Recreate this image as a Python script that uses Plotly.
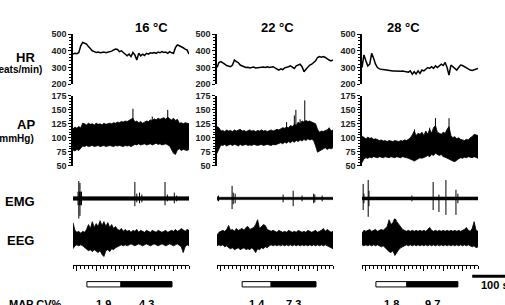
import plotly.graph_objects as go

W, H = 505, 305
T5 = list(range(0, 301, 5))  # sample times (s)

TITLES = ["16 °C", "22 °C", "28 °C"]

HR = [
    [380, 385, 382, 390, 430, 450, 445, 440, 425, 410, 400, 395, 390, 392, 388, 390, 392, 388, 390, 395,
     398, 405, 410, 408, 395, 400, 390, 385, 370, 380, 365, 390, 375, 345, 385, 370, 380, 372, 385, 380,
     388, 385, 390, 385, 392, 388, 395, 390, 392, 385, 395, 388, 385, 420, 435, 430, 425, 418, 410, 405, 380],
    [300, 330, 335, 325, 320, 312, 310, 305, 315, 345, 335, 330, 315, 308, 305, 300, 302, 298, 300, 303,
     298, 300, 302, 300, 303, 300, 305, 300, 303, 305, 298, 290, 285, 292, 288, 298, 300, 305, 310, 300,
     295, 310, 315, 320, 305, 275, 290, 305, 315, 320, 330, 340, 360, 365, 362, 365, 360, 350, 345, 340, 345],
    [300, 375, 340, 310, 320, 385, 355, 320, 300, 292, 290, 288, 285, 282, 280, 282, 280, 280, 278, 280,
     278, 280, 278, 275, 272, 280, 260, 275, 262, 280, 265, 285, 280, 290, 300, 295, 305, 295, 310, 300,
     310, 320, 312, 330, 300, 255, 315, 305, 295, 285, 300, 315, 312, 305, 300, 290, 285, 282, 285, 290, 295],
]

AP_UP = [
    [116, 119, 117, 120, 118, 126, 125, 123, 126, 124, 125, 123, 126, 124, 125, 123, 126, 124, 125, 126,
     125, 127, 126, 128, 127, 129, 128, 130, 129, 131, 132, 135, 128, 130, 127, 129, 126, 128, 130, 129,
     132, 131, 134, 132, 135, 133, 134, 136, 133, 137, 134, 132, 135, 131, 133, 126, 127, 125, 127, 126, 125],
    [120, 118, 112, 113, 111, 114, 112, 113, 111, 114, 112, 113, 115, 112, 113, 111, 113, 114, 112, 113,
     111, 113, 112, 114, 112, 113, 111, 113, 114, 112, 113, 115, 114, 116, 118, 117, 119, 118, 122, 120,
     124, 122, 128, 125, 130, 128, 131, 129, 130, 128, 127, 125, 115, 110, 112, 111, 113, 114, 118, 112, 114],
    [103, 100, 98, 101, 99, 100, 97, 98, 96, 95, 96, 94, 95, 93, 95, 94, 93, 95, 94, 93,
     95, 94, 96, 95, 97, 100, 105, 112, 104, 108, 106, 110, 104, 112, 106, 115, 108, 118, 122, 110,
     108, 106, 110, 108, 115, 120, 104, 100, 102, 98, 100, 97, 96, 95, 97, 96, 100, 102, 106, 105, 104],
]
AP_LO = [
    [78, 76, 79, 77, 80, 85, 84, 86, 84, 85, 86, 84, 85, 86, 84, 85, 86, 84, 85, 86,
     85, 84, 86, 85, 86, 85, 84, 86, 85, 86, 84, 86, 88, 87, 89, 87, 88, 89, 87, 88,
     89, 87, 88, 90, 88, 89, 87, 88, 89, 87, 85, 80, 72, 70, 78, 80, 77, 79, 78, 77, 79],
    [72, 80, 87, 86, 88, 85, 87, 88, 86, 88, 87, 85, 88, 86, 87, 88, 86, 87, 86, 88,
     87, 86, 87, 88, 86, 87, 88, 87, 86, 88, 87, 89, 90, 91, 89, 92, 90, 93, 91, 94,
     92, 95, 93, 96, 94, 97, 95, 98, 96, 97, 95, 85, 74, 76, 78, 80, 82, 79, 81, 80, 82],
    [55, 62, 64, 63, 65, 64, 66, 65, 64, 66, 65, 64, 66, 65, 64, 66, 65, 64, 66, 65,
     64, 66, 65, 64, 63, 62, 60, 58, 60, 62, 64, 63, 65, 66, 68, 66, 70, 68, 72, 70,
     68, 70, 66, 65, 63, 62, 60, 58, 57, 59, 62, 64, 63, 65, 64, 66, 65, 64, 66, 65, 63],
]
# (time s, peak mmHg)
AP_SPIKES = [
    [(155, 152), (245, 150), (205, 138)],
    [(180, 128), (200, 140), (204, 150), (215, 133), (227, 167)],
    [(136, 115), (175, 118), (190, 135), (225, 135)],
]

EMG_NOISE = [1.8, 1.2, 1.5]
# (time s, top, bottom) in trace units
EMG_SPIKES = [
    [(13, 7, -7), (15, 18, -21), (17, 7, -7), (18, 16, -18), (20, 7, -7), (22, 7, -7),
     (160, 17, -8), (165, 5, -4), (172, 6, -5), (178, 4, -4), (238, 17, -7), (244, 4, -3),
     (262, 6, -5), (268, 3, -3)],
    [(0, 2.5, -2.5), (4, 3, -3), (39, 13, -11), (42, 6, -6), (47, 5, -5), (171, 4, -4),
     (197, 8, -8), (220, 3, -3), (250, 5, -5), (253, 4, -4), (272, 3, -3)],
    [(3, 15, -12), (5, 5, -5), (16, 19, -19), (18, 8, -8), (129, 3, -3), (184, 17, -12),
     (199, 4, -14), (217, 19, -17), (243, 9, -17), (248, 5, -5)],
]

EEG_UP = [
    [16, 8, 6, 7, 5, 7, 6, 9, 14, 10, 17, 11, 15, 12, 18, 13, 17, 12, 16, 11,
     14, 10, 12, 9, 8, 10, 7, 9, 7, 8, 6, 8, 7, 9, 6, 8, 7, 6, 8, 7,
     6, 8, 7, 6, 8, 7, 6, 7, 8, 6, 7, 8, 7, 9, 7, 8, 10, 8, 7, 9, 8],
    [3, 6, 7, 8, 7, 9, 13, 8, 9, 7, 10, 8, 9, 10, 8, 11, 12, 9, 10, 11,
     14, 19, 10, 12, 14, 13, 9, 8, 7, 8, 7, 6, 8, 7, 6, 7, 6, 8, 7, 6,
     7, 6, 8, 7, 6, 7, 6, 8, 7, 6, 7, 8, 6, 7, 8, 10, 7, 9, 7, 6, 7],
    [5, 8, 7, 8, 9, 7, 8, 9, 7, 8, 9, 8, 10, 12, 19, 14, 16, 21, 17, 14,
     12, 9, 8, 7, 8, 7, 8, 7, 8, 7, 8, 7, 8, 7, 9, 11, 8, 7, 8, 7,
     8, 7, 8, 7, 8, 7, 8, 7, 8, 7, 8, 7, 8, 9, 11, 8, 7, 10, 17, 8, 7],
]
EEG_LO = [
    [-11, -8, -7, -8, -7, -8, -9, -11, -13, -12, -14, -12, -13, -15, -13, -17, -19, -13, -12, -14,
     -11, -12, -10, -9, -8, -7, -8, -7, -8, -7, -6, -7, -8, -7, -6, -7, -8, -7, -6, -7,
     -8, -7, -6, -7, -8, -7, -6, -7, -8, -7, -6, -7, -8, -7, -6, -7, -9, -15, -9, -7, -8],
    [-8, -7, -8, -7, -9, -8, -10, -11, -10, -12, -11, -10, -12, -11, -10, -12, -11, -12, -10, -12,
     -15, -11, -12, -10, -11, -9, -10, -8, -7, -8, -7, -8, -7, -8, -7, -8, -7, -8, -7, -8,
     -7, -8, -7, -8, -7, -8, -7, -8, -7, -8, -7, -8, -7, -8, -7, -8, -7, -8, -9, -10, -11],
    [-7, -8, -7, -8, -7, -8, -7, -8, -7, -8, -9, -8, -10, -12, -14, -15, -13, -18, -15, -12,
     -10, -9, -8, -7, -8, -7, -8, -7, -8, -7, -8, -7, -8, -7, -8, -7, -8, -7, -8, -7,
     -8, -7, -8, -7, -8, -7, -8, -7, -8, -7, -8, -7, -8, -7, -8, -7, -8, -9, -8, -10, -9],
]

# light period start, light->dark boundary, dark end (s)
PERIODS = [(36, 124, 256), (65, 140, 256), (36, 116, 248)]
CV_LIGHT = ["1.9", "1.4", "1.8"]
CV_DARK = ["4.3", "7.3", "9.7"]
HR_TICKS = [200, 300, 400, 500]
AP_TICKS = [50, 75, 100, 125, 150, 175]
SCALE_S = 100

# ---------------- layout helpers ----------------
FONT = "Liberation Sans, Arial, sans-serif"
PANEL_PX = [(73, 189), (217, 333), (362, 478)]
T_RANGE = [0, 300]


def px(v):
    return v / W


def py(v):
    return 1 - v / H


ROWS = {  # pixel top, bottom
    "hr": (30, 82),
    "ap": (94, 166),
    "emg": (179, 221),
    "eeg": (221, 261),
}

fig = go.Figure()
layout = dict(
    width=W, height=H, margin=dict(l=0, r=0, t=0, b=0), autosize=False,
    paper_bgcolor="white", plot_bgcolor="white", showlegend=False,
    font=dict(family=FONT, color="black"),
)
shapes = []
annotations = []

for i in range(3):
    xid = "x" if i == 0 else f"x{i + 1}"
    xkey = "xaxis" if i == 0 else f"xaxis{i + 1}"
    x0p, x1p = PANEL_PX[i]
    layout[xkey] = dict(
        domain=[px(x0p), px(x1p)], range=T_RANGE, anchor="free", position=py(269),
        showline=True, linecolor="black", linewidth=1.2, ticks="outside", ticklen=5,
        tickwidth=1, tickcolor="black", tick0=10, dtick=50, showticklabels=False,
        showgrid=False, zeroline=False,
        minor=dict(ticks="outside", ticklen=2.5, dtick=10, tick0=0, tickcolor="black", tickwidth=1),
    )
    ynums = [i * 4 + r + 1 for r in range(4)]
    yids = ["y" if n == 1 else f"y{n}" for n in ynums]
    ykeys = ["yaxis" if n == 1 else f"yaxis{n}" for n in ynums]

    # HR axis
    t, b = ROWS["hr"]
    layout[ykeys[0]] = dict(
        domain=[py(b), py(t)], range=[200, 500], anchor=xid, tickvals=HR_TICKS,
        showline=True, linecolor="black", linewidth=1.5, ticks="outside", ticklen=3,
        tickcolor="black", tickfont=dict(size=9, family=FONT, weight="bold", color="#222"),
        minor=dict(ticks="outside", ticklen=2, dtick=20, tick0=200, tickcolor="black"),
        showgrid=False, zeroline=False,
    )
    t, b = ROWS["ap"]
    layout[ykeys[1]] = dict(
        domain=[py(b), py(t)], range=[50, 175], anchor=xid, tickvals=AP_TICKS,
        showline=True, linecolor="black", linewidth=1.5, ticks="outside", ticklen=3,
        tickcolor="black", tickfont=dict(size=9, family=FONT, weight="bold", color="#222"),
        minor=dict(ticks="outside", ticklen=2, dtick=5, tick0=50, tickcolor="black"),
        showgrid=False, zeroline=False,
    )
    t, b = ROWS["emg"]
    layout[ykeys[2]] = dict(domain=[py(b), py(t)], range=[-21, 21], anchor=xid, visible=False)
    t, b = ROWS["eeg"]
    layout[ykeys[3]] = dict(domain=[py(b), py(t)], range=[-20, 20], anchor=xid, visible=False)

    # HR trace
    fig.add_trace(go.Scatter(x=T5, y=HR[i], mode="lines", xaxis=xid, yaxis=yids[0],
                             line=dict(color="black", width=1.5)))
    # AP band
    fig.add_trace(go.Scatter(x=T5 + T5[::-1], y=AP_UP[i] + AP_LO[i][::-1], mode="lines",
                             fill="toself", fillcolor="black", xaxis=xid, yaxis=yids[1],
                             line=dict(color="black", width=0.8)))
    sx, sy = [], []
    for (st, peak) in AP_SPIKES[i]:
        sx += [st, st, None]
        sy += [100, peak, None]
    fig.add_trace(go.Scatter(x=sx, y=sy, mode="lines", xaxis=xid, yaxis=yids[1],
                             line=dict(color="black", width=1)))
    # EMG baseline + spikes
    n = EMG_NOISE[i]
    fig.add_trace(go.Scatter(x=[T_RANGE[0], T_RANGE[1], T_RANGE[1], T_RANGE[0]],
                             y=[n, n, -n, -n], mode="lines", fill="toself", fillcolor="black",
                             xaxis=xid, yaxis=yids[2], line=dict(color="black", width=0.6)))
    ex, ey = [], []
    for (st, top, bot) in EMG_SPIKES[i]:
        ex += [st, st, None]
        ey += [bot, top, None]
    fig.add_trace(go.Scatter(x=ex, y=ey, mode="lines", xaxis=xid, yaxis=yids[2],
                             line=dict(color="black", width=1)))
    # EEG band
    fig.add_trace(go.Scatter(x=T5 + T5[::-1], y=EEG_UP[i] + EEG_LO[i][::-1], mode="lines",
                             fill="toself", fillcolor="black", xaxis=xid, yaxis=yids[3],
                             line=dict(color="black", width=0.8)))

    # light/dark bars
    s, m, e = PERIODS[i]
    shapes.append(dict(type="rect", xref=xid, yref="paper", x0=s, x1=m, y0=py(291.5), y1=py(286),
                       fillcolor="white", line=dict(color="black", width=1)))
    shapes.append(dict(type="rect", xref=xid, yref="paper", x0=m, x1=e, y0=py(291.5), y1=py(286),
                       fillcolor="black", line=dict(color="black", width=1)))

    # titles
    annotations.append(dict(text=f"<b>{TITLES[i]}</b>", xref="paper", yref="paper",
                            x=px((x0p + x1p) / 2 + 2), y=py(13), showarrow=False,
                            font=dict(size=13, family=FONT)))
    # CV values (cut by the bottom edge as in the source figure)
    annotations.append(dict(text=f"<b>{CV_LIGHT[i]}</b>", xref=xid, yref="paper", x=(s + m) / 2,
                            y=py(309), yanchor="middle", showarrow=False, font=dict(size=11, family=FONT)))
    annotations.append(dict(text=f"<b>{CV_DARK[i]}</b>", xref=xid, yref="paper", x=(m + e) / 2,
                            y=py(309), yanchor="middle", showarrow=False, font=dict(size=11, family=FONT)))

# 100 s scale bar, placed in panel-3 time units
x0p, x1p = PANEL_PX[2]
pps = (x1p - x0p) / (T_RANGE[1] - T_RANGE[0])
sb_start = 285
sb_x0 = x0p + sb_start * pps
sb_x1 = sb_x0 + SCALE_S * pps
shapes.append(dict(type="rect", xref="paper", yref="paper", x0=px(sb_x0), x1=px(sb_x1),
                   y0=py(282), y1=py(279), fillcolor="black", line=dict(width=0)))
annotations.append(dict(text=f"<b>{SCALE_S} s</b>", xref="paper", yref="paper", x=px(479), y=py(290),
                        xanchor="left", yanchor="middle", showarrow=False, font=dict(size=11, family=FONT)))

# row labels
for txt, cx, cy, sz in [("HR", 25, 54, 13), ("(beats/min)", 15, 67, 10), ("AP", 26, 124, 13),
                        ("(mmHg)", 15, 138, 10), ("EMG", 20, 203, 13), ("EEG", 20, 243, 13),
                        ("MAP CV%", 35, 309, 11)]:
    annotations.append(dict(text=f"<b>{txt}</b>", xref="paper", yref="paper", x=px(cx), y=py(cy),
                            xanchor="center", yanchor="middle", showarrow=False,
                            font=dict(size=sz, family=FONT)))

layout["shapes"] = shapes
layout["annotations"] = annotations
fig.update_layout(**layout)
fig.write_html("out.html")
